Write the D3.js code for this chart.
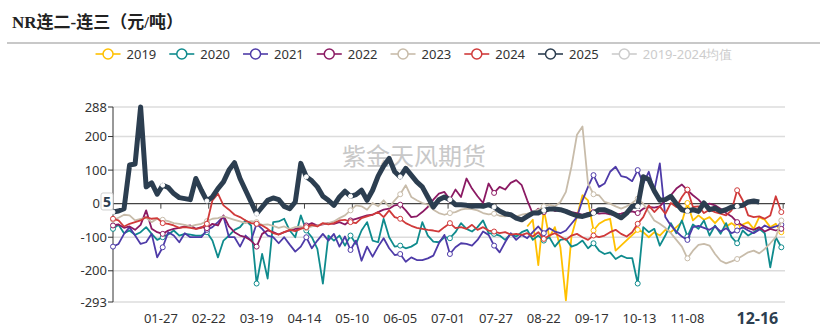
<!DOCTYPE html>
<html><head><meta charset="utf-8">
<script src="https://cdn.jsdelivr.net/npm/d3@7"></script>
<style>body{margin:0;background:#fff}svg{display:block}</style>
</head><body><svg id="c" width="828" height="329"></svg>
<script>
const titleText = "NR连二-连三（元/吨）";
const watermarkText = "紫金天风期货";
const legendNames = ["2019","2020","2021","2022","2023","2024","2025","2019-2024均值"];
const seriesColors = ["#ffc000","#0f8b8d","#4e3ba8","#8b1a63","#c8bcaa","#d03a3a","#2c3e50","#cccccc"];
const yTicks = [288,200,100,0,-100,-200,-293];
const tickLabels = ["01-27","02-22","03-19","04-14","05-10","06-05","07-01","07-27","08-22","09-17","10-13","11-08"];
const currentLabel = "12-16";
const lastValueLabel = "5";

// x axis categories: calendar days MM-DD; series sampled on every 3rd day
const categories = d3.timeDays(new Date(2024,0,1), new Date(2025,0,1)).map(d3.timeFormat("%m-%d"));
const sampleCategories = categories.filter((c,i)=>i%3===0);
const N = null;

const s2019 = [N,N,N,N,N,N,N,N,N,N, N,N,N,N,N,N,N,N,N,N, N,N,N,N,N,N,N,N,N,N,
 N,N,N,N,N,N,N,N,N,N, N,N,N,N,N,N,N,N,N,N, N,N,N,N,N,N,N,N,N,N, N,N,N,N,N,N,N,N,N,N, N,N,N,N,N,
 -68,-48,-183,-18,-100,-70,-130,-288,-98,-38,
 25,10,-80,-60,-50,-45,-140,N,N,N,
 -78,-85,-100,-85,-95,-78,-85,-70,-55,2,
 -50,-35,-48,-40,-58,-40,-68,-58,-70,-62,
 -55,-75,-40,-48,-70,-60,-85];
const s2020 = [-75,-63,-88,-80,-93,-85,-70,-90,-108,-100,
 -92,-80,-95,-90,-92,-95,-95,-85,-110,-160,
 -110,-95,-78,-70,-50,-65,-238,-150,-223,-55,
 -53,-45,-80,-100,-35,-80,-100,-135,-238,-95,
 -110,-95,-125,-95,-120,-80,-55,-110,-115,-45,
 -100,-128,-125,-133,-128,-118,-55,-95,-113,-115,
 -100,-103,-85,-58,-75,-83,-70,-50,-88,-90,
 -95,-108,-90,-98,-85,-78,-108,-95,-110,-100,
 -128,-108,-105,-128,-122,-110,-133,-118,-140,-150,
 -145,-165,-155,-162,-162,-238,-70,-85,-75,-125,
 -95,-58,-88,-50,-98,-62,-75,-50,-95,-65,
 -90,-58,-100,-118,-80,-95,-85,-75,-88,-190,
 -100,-130];
const s2021 = [-128,-120,-90,-70,-95,-120,-115,-90,-160,-130,
 -85,-95,-115,-88,-100,-100,-100,-78,-70,-55,
 -38,-100,-100,-128,-95,-110,-60,-75,-95,-100,
 -118,-100,-122,-143,-128,-100,-133,-110,-90,-110,
 -90,-128,-98,-138,-110,-170,-128,-158,-128,-103,
 -133,-153,-150,-173,-160,-168,-168,-163,-155,-118,
 -93,-150,-130,-118,-120,-125,-108,-83,-93,-125,
 -145,-115,-88,-108,-93,-103,-85,-68,-88,-73,
 -83,-88,-80,-60,-40,10,50,85,50,60,
 95,110,82,78,67,100,60,95,40,120,
 -40,-65,-83,-98,-108,-70,-66,-72,-78,-68,
 -83,-73,-88,-80,-70,-80,-88,-78,-65,-73,
 -68,-63];
const s2022 = [-65,-62,-72,-68,-78,-63,-20,-75,-85,-90,
 -80,-75,-72,-68,-65,-75,-70,-73,-60,-65,
 -35,-68,-85,-95,-100,-110,-128,-90,-80,-85,
 -92,-85,-80,-75,-72,-65,-58,-65,-62,-58,
 -60,-55,-62,-50,-45,-40,-35,-33,-25,-18,
 -15,-5,-3,-20,-40,-38,-25,-10,12,30,
 35,12,42,20,75,45,22,2,60,32,
 50,42,62,70,55,10,-30,-15,-25,-12,
 -22,-18,-20,-25,-28,-33,-28,-25,-30,-28,
 -32,-33,-30,-25,-23,-28,-15,-10,-12,-8,
 10,25,45,57,40,25,12,-5,0,-5,
 -15,-28,-38,-55,-65,-73,-78,-70,-83,-75,
 -80,-75];
const s2023 = [-48,-42,-33,-35,-50,-45,-42,-55,-45,-48,
 -52,-58,-60,-63,-68,-63,-60,-52,-45,-43,
 -38,-43,-48,-53,-58,-52,-55,-63,-62,-66,
 -72,-68,-76,-70,-68,-73,-68,-65,-60,-58,
 -53,-43,-35,-20,-5,-8,-18,2,-8,10,
 -10,10,28,55,20,10,2,-3,-18,-28,
 -33,-28,-25,-18,-15,-16,-20,-28,-32,-30,
 -36,-38,-33,-38,-33,-30,-25,-18,-8,-3,
 -8,5,35,110,205,230,60,28,25,5,
 0,-8,-15,-8,2,15,0,-25,-50,-60,
 -72,-88,-108,-128,-163,-140,-123,-120,-125,-150,
 -170,-178,-172,-165,-155,-145,-140,-148,-135,-118,
 -100,-50];
const s2024 = [-45,-50,-68,-60,-55,-50,-40,-45,-43,-58,
 -60,-65,-72,-70,-72,-75,-72,-60,10,30,
 -5,-18,-33,-40,-50,-58,-60,-65,-75,-88,
 -92,-85,-78,-82,-75,-70,-63,-68,-58,-62,
 -58,-50,-48,-55,-58,-43,-38,-33,-25,-40,
 -20,-40,-45,-58,-66,-72,-75,-78,-80,-83,
 -70,-58,-73,-70,-75,-63,-78,-70,-80,-83,
 -88,-85,-92,-90,-93,-88,-98,-85,-105,-95,
 -88,-98,-108,-95,-90,-100,-108,-95,-100,-95,
 -85,-78,-90,-98,-85,-60,-40,-5,-25,-8,
 -30,2,-10,20,42,-10,-8,-28,-18,-25,
 -30,-35,-20,40,10,-35,-40,-38,-45,-35,
 22,-25];
const s2025 = [-25,-22,-15,115,118,288,50,62,28,55,
 48,30,18,15,12,75,40,8,20,45,
 65,100,122,75,40,5,-30,-10,10,17,
 12,-8,-15,5,120,80,68,50,22,10,
 -5,20,37,22,27,40,10,40,82,112,
 135,95,80,105,85,65,50,20,-10,12,
 20,12,-3,-3,-5,-8,-6,-8,-3,-10,
 -22,-30,-33,-43,-48,-38,-28,-28,-20,-16,
 -16,-18,-23,-30,-36,-38,-33,-28,-18,-18,
 -25,-33,-42,-28,-8,-8,80,72,38,10,
 12,22,0,-18,-22,-18,-23,2,-18,-13,
 -23,-18,-10,-8,-5,5,8,5,N,N,
 N,N];
const seriesValues = [s2019,s2020,s2021,s2022,s2023,s2024,s2025];

const svg = d3.select("#c");
const L = 113, R = 785, T = 107, B = 302;
const x = d3.scalePoint().domain(categories).range([L, R]);
const y = d3.scaleLinear().domain([-293, 288]).range([B, T]);
const FONT = "'Noto Sans','DejaVu Sans',sans-serif";

// title
svg.append("text").attr("x", 12).attr("y", 28).text(titleText)
  .attr("font-family", "'Liberation Serif','Noto Sans CJK SC',serif")
  .attr("font-weight", "bold").attr("font-size", 17).attr("fill", "#222");
svg.append("line").attr("x1", 7).attr("x2", 820).attr("y1", 43).attr("y2", 43)
  .attr("stroke", "#c8c8c8").attr("stroke-width", 2);

// legend
const lg = svg.append("g");
let lx = 0;
legendNames.forEach((n, i) => {
  const g = lg.append("g").attr("transform", `translate(${lx},0)`);
  g.append("line").attr("x1", 0).attr("x2", 25).attr("y1", 0).attr("y2", 0)
    .attr("stroke", seriesColors[i]).attr("stroke-width", 1.6);
  g.append("circle").attr("cx", 12.5).attr("cy", 0).attr("r", 5)
    .attr("fill", "#fff").attr("stroke", seriesColors[i]).attr("stroke-width", 1.5);
  const t = g.append("text").attr("x", 31).attr("y", 0).attr("dy", "0.35em").text(n)
    .attr("font-family", FONT).attr("font-size", 13)
    .attr("fill", i === 7 ? "#cccccc" : "#333");
  lx += 31 + t.node().getComputedTextLength() + 13;
});
lx -= 13;
lg.attr("transform", `translate(${(828 - lx) / 2},54)`);

// grid
yTicks.forEach(v => {
  if (v === 0) return;
  svg.append("line").attr("x1", L).attr("x2", R).attr("y1", y(v)).attr("y2", y(v))
    .attr("stroke", "#dcdcdc").attr("stroke-width", 1.5);
});

// watermark
svg.append("text").attr("x", 414).attr("y", 157).attr("dy", "0.35em").attr("text-anchor", "middle")
  .text(watermarkText).attr("font-family", "'Noto Sans CJK SC',sans-serif")
  .attr("font-size", 24).attr("fill", "#c8c8c8");

// y axis
svg.append("line").attr("x1", L).attr("x2", L).attr("y1", T).attr("y2", B)
  .attr("stroke", "#333").attr("stroke-width", 1);
yTicks.forEach(v => {
  svg.append("line").attr("x1", L - 5).attr("x2", L).attr("y1", y(v)).attr("y2", y(v))
    .attr("stroke", "#333");
  svg.append("text").attr("x", v === 0 ? 100 : L - 6).attr("y", y(v)).attr("dy", "0.35em")
    .attr("text-anchor", "end").text(v).attr("font-family", FONT)
    .attr("font-size", 13).attr("fill", "#333");
});

// zero axis with ticks
svg.append("line").attr("x1", L).attr("x2", R).attr("y1", y(0)).attr("y2", y(0))
  .attr("stroke", "#444").attr("stroke-width", 1.2);
const tickCats = categories.filter((c, i) => i % 26 === 0);
tickCats.forEach(c => {
  svg.append("line").attr("x1", x(c)).attr("x2", x(c)).attr("y1", y(0)).attr("y2", y(0) + 5)
    .attr("stroke", "#444");
});

// x labels
tickLabels.forEach(c => {
  svg.append("text").attr("x", x(c)).attr("y", 318).attr("dy", "0.35em")
    .attr("text-anchor", "middle").text(c).attr("font-family", FONT)
    .attr("font-size", 13).attr("fill", "#333");
});
svg.append("text").attr("x", x(currentLabel)).attr("y", 318).attr("dy", "0.35em")
  .attr("text-anchor", "middle").text(currentLabel).attr("font-family", FONT)
  .attr("font-weight", "bold").attr("font-size", 16).attr("fill", "#2c3e50");

// series
const line = d3.line().x(d => x(d.c)).y(d => y(d.v));
seriesValues.forEach((vals, si) => {
  const pts = vals.map((v, i) => ({ c: sampleCategories[i], v })).filter(d => d.v !== null);
  svg.append("path").attr("d", line(pts)).attr("fill", "none")
    .attr("stroke", seriesColors[si]).attr("stroke-width", si === 6 ? 5 : 1.8)
    .attr("stroke-linejoin", "round");
  const marks = tickCats.map(c => {
    const k = Math.min(vals.length - 1, Math.round(categories.indexOf(c) / 3));
    return { c: sampleCategories[k], v: vals[k] };
  }).filter(d => d.v !== null);
  svg.selectAll(null).data(marks).enter().append("circle")
    .attr("cx", d => x(d.c)).attr("cy", d => y(d.v)).attr("r", si === 6 ? 2 : 2.5)
    .attr("fill", "#fff").attr("stroke", si === 6 ? "#fff" : seriesColors[si]).attr("stroke-width", 1);
});

// last value label on y axis
const lastVal = +lastValueLabel;
svg.append("rect").attr("x", 101).attr("y", y(lastVal) - 9).attr("width", 12).attr("height", 17)
  .attr("rx", 2).attr("fill", "#fff").attr("stroke", "#d0d0d0").attr("stroke-width", 1);
svg.append("text").attr("x", 107).attr("y", y(lastVal)).attr("dy", "0.35em")
  .attr("text-anchor", "middle").text(lastValueLabel).attr("font-family", FONT)
  .attr("font-weight", "bold").attr("font-size", 14).attr("fill", "#2c3e50");
</script></body></html>
